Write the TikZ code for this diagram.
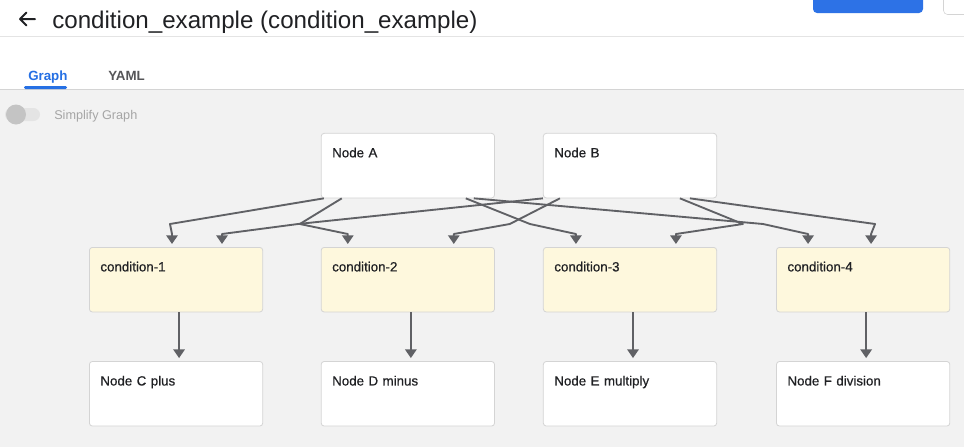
\documentclass[tikz,border=0pt]{standalone}
\usepackage{fontspec}
\setmainfont{Liberation Sans}
\newfontfamily\boxfont[FakeBold=0.6]{Liberation Sans}
\usetikzlibrary{positioning, arrows.meta, calc}
\definecolor{canvas}{RGB}{242,242,242}
\definecolor{edgegray}{RGB}{96,97,101}
\definecolor{boxline}{RGB}{212,212,212}
\definecolor{condfill}{RGB}{254,248,221}
\definecolor{tabblue}{RGB}{38,112,228}
\definecolor{btnblue}{RGB}{45,114,230}
\definecolor{titlegray}{RGB}{32,33,36}
\definecolor{yamlgray}{RGB}{85,85,88}
\definecolor{hintgray}{RGB}{165,165,165}
\definecolor{rulegray}{RGB}{228,228,228}
\definecolor{knobgray}{RGB}{196,196,196}

\begin{document}
\begin{tikzpicture}[
    x=0.75pt, y=-0.75pt,
    font=\boxfont\fontsize{10}{12}\selectfont,
    node distance=36.5pt and 43.5pt,
    task/.style={rectangle, draw=boxline, fill=white, rounded corners=2.25pt, line width=0.6pt,
                 text width=113.5pt, inner xsep=8.25pt, inner ysep=11.25pt,
                 text height=6.75pt, text depth=19.2pt, align=left, text=titlegray},
    cond/.style={task, fill=condfill},
    arrow/.style={-{Triangle[width=8.5pt, length=6.5pt]}, draw=edgegray, line width=1.4pt, line join=round},
    tab/.style={font=\bfseries\fontsize{10}{12}\selectfont, anchor=base west, inner sep=0pt},
    uitext/.style={anchor=base west, inner sep=0pt}
]
\useasboundingbox (0,0) rectangle (964,447);
\clip (0,0) rectangle (964,447);
% --- Cabecera ---
\fill[white] (0,0) rectangle (964,89);
\fill[canvas] (0,89) rectangle (964,447);
\draw[rulegray, line width=0.75pt] (0,36) -- (964,36);
\draw[boxline, line width=0.75pt] (0,89.5) -- (964,89.5);
\draw[titlegray, line width=1.5pt, line cap=round, line join=round]
    (20,19) -- (35,19) (26.5,12.5) -- (20,19) -- (26.5,25.5);
\node[uitext, font=\fontsize{18.1}{22}\selectfont, text=titlegray] (title) at (52,28)
    {condition\_example (condition\_example)};
\fill[btnblue, rounded corners=3pt] (813,-10) rectangle (923,13);
\draw[boxline, fill=white, rounded corners=3pt] (943.5,-10) rectangle (980,14.5);
% --- Pestañas ---
\node[tab, text=tabblue] (graphtab) at (28,80) {Graph};
\node[tab, text=yamlgray] (yamltab) at (108,80) {YAML};
\fill[tabblue, rounded corners=1pt] (24,86) rectangle (67,89);
% --- Interruptor ---
\fill[rulegray, rounded corners=5pt] (5,108) rectangle (40,121);
\fill[knobgray] (16,114.5) circle[radius=7.5pt];
\node[uitext, font=\fontsize{9.5}{12}\selectfont, text=hintgray] (simplify) at (54,119) {Simplify Graph};
% --- Condiciones ---
\node[cond, anchor=north west] (c1) at (89,247) {condition-1};
\node[cond, right=43.25pt of c1] (c2) {condition-2};
\node[cond, right=36pt of c2] (c3) {condition-3};
\node[cond, right=44.25pt of c3] (c4) {condition-4};
% --- Entradas ---
\node[task, above=of c2] (A) {Node A};
\node[task, above=of c3] (B) {Node B};
% --- Operaciones ---
\node[task, below=of c1] (C) {Node C plus};
\node[task, below=of c2] (D) {Node D minus};
\node[task, below=of c3] (E) {Node E multiply};
\node[task, below=of c4] (F) {Node F division};
% --- Flechas ---
\foreach \src/\sx/\dst/\bx/\tx in {A/3/c1/81/83, A/21/c2/-21/27, A/145/c3/-13/33, A/153/c4/-13/32,
                                   B/0/c1/209/133, B/17/c2/189/133, B/137/c3/200/133, B/147/c4/99/95}
    \draw[arrow] ($(\src.south west)+(\sx,0)$) -- ($(\dst.north west)+(\bx,-23)$)
        -- ($(\dst.north west)+(\tx,-13)$) -- ($(\dst.north west)+(\tx,-3)$);
\foreach \a/\b in {c1/C, c2/D, c3/E, c4/F}
    \draw[arrow, shorten >=2.25pt] ([xshift=2.25pt]\a.south) -- ([xshift=2.25pt]\b.north);
\end{tikzpicture}
\end{document}
